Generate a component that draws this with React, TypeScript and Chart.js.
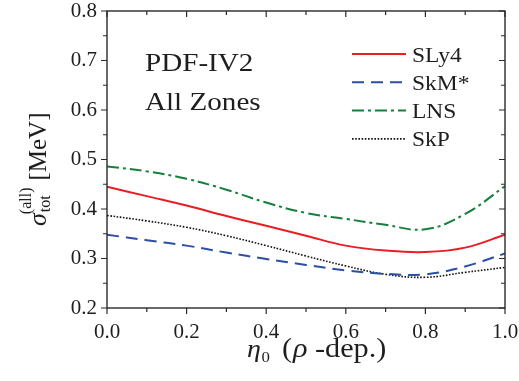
import React, { useEffect, useRef } from "react";
import { Chart, registerables } from "chart.js";

Chart.register(...registerables);

// ---- data ----
const etaValues = [0.0, 0.1, 0.2, 0.3, 0.4, 0.5, 0.6, 0.7, 0.8, 0.9, 1.0];
const sly4 = [0.445, 0.426, 0.407, 0.386, 0.366, 0.346, 0.326, 0.316, 0.313, 0.322, 0.348];
const skmStar = [0.348, 0.337, 0.326, 0.312, 0.299, 0.287, 0.276, 0.269, 0.268, 0.284, 0.31];
const lns = [0.486, 0.476, 0.461, 0.439, 0.413, 0.392, 0.38, 0.368, 0.359, 0.39, 0.446];
const skp = [0.387, 0.376, 0.363, 0.346, 0.326, 0.305, 0.285, 0.268, 0.262, 0.272, 0.282];
const seriesNames = ["SLy4", "SkM*", "LNS", "SkP"];
const annotationLines = ["PDF-IV2", "All Zones"];
const xRange = [0, 1];
const yRange = [0.2, 0.8];
const xStep = 0.2;
const yStep = 0.1;

const FONT = '"Liberation Serif", "Times New Roman", Times, serif';
const SX = 1.12;

function toPoints(ys: number[]) {
  return etaValues.map((x, i) => ({ x, y: ys[i] }));
}

function textW(ctx: CanvasRenderingContext2D, t: string, x: number, y: number, font: string, sx = SX) {
  ctx.save();
  ctx.font = font;
  ctx.translate(x, y);
  ctx.scale(sx, 1);
  ctx.fillText(t, 0, 0);
  const w = ctx.measureText(t).width * sx;
  ctx.restore();
  return w;
}

function zeroPadding(s: any) {
  s.paddingTop = 0;
  s.paddingBottom = 0;
  s.paddingLeft = 0;
  s.paddingRight = 0;
}

const decorPlugin = {
  id: "decor",
  afterDraw(chart: any) {
    const ctx: CanvasRenderingContext2D = chart.ctx;
    const { left, right, top, bottom } = chart.chartArea;
    const xs = chart.scales.x;
    const ys = chart.scales.y;
    ctx.save();
    ctx.strokeStyle = "#2a2a2a";
    ctx.fillStyle = "#1e1e1e";
    ctx.lineWidth = 1.4;
    ctx.setLineDash([]);
    ctx.strokeRect(left, top, right - left, bottom - top);

    const major = 6;
    const minor = 4;
    ctx.lineWidth = 1.2;
    ctx.beginPath();
    const xt = xs.ticks.map((t: any) => t.value);
    xt.forEach((v: number, i: number) => {
      const p = xs.getPixelForValue(v);
      ctx.moveTo(p, bottom); ctx.lineTo(p, bottom + major);
      ctx.moveTo(p, top); ctx.lineTo(p, top + major);
      if (i < xt.length - 1) {
        const m = xs.getPixelForValue((v + xt[i + 1]) / 2);
        ctx.moveTo(m, bottom); ctx.lineTo(m, bottom + minor);
        ctx.moveTo(m, top); ctx.lineTo(m, top + minor);
      }
    });
    const yt = ys.ticks.map((t: any) => t.value);
    yt.forEach((v: number, i: number) => {
      const p = ys.getPixelForValue(v);
      ctx.moveTo(left, p); ctx.lineTo(left - major, p);
      ctx.moveTo(right, p); ctx.lineTo(right - major, p);
      if (i < yt.length - 1) {
        const m = ys.getPixelForValue((v + yt[i + 1]) / 2);
        ctx.moveTo(left, m); ctx.lineTo(left - minor, m);
        ctx.moveTo(right, m); ctx.lineTo(right - minor, m);
      }
    });
    ctx.stroke();

    // annotation
    ctx.textBaseline = "alphabetic";
    ctx.textAlign = "left";
    textW(ctx, annotationLines[0], 145, 71, `26px ${FONT}`);
    textW(ctx, annotationLines[1], 145, 110, `26px ${FONT}`);

    // legend
    chart.data.datasets.forEach((ds: any, i: number) => {
      const ly = 54 + i * 28.3;
      ctx.save();
      ctx.strokeStyle = ds.borderColor;
      ctx.lineWidth = ds.borderWidth;
      ctx.setLineDash(ds.borderDash || []);
      ctx.beginPath();
      ctx.moveTo(352, ly);
      ctx.lineTo(406, ly);
      ctx.stroke();
      ctx.restore();
      textW(ctx, ds.label, 412, ly + 7.5, `21px ${FONT}`);
    });

    // x title
    const xb = 357;
    let cx = 247;
    cx += textW(ctx, "η", cx, xb, `italic 25px ${FONT}`);
    textW(ctx, "0", cx + 0.5, xb + 5, `15px ${FONT}`);
    cx = 282;
    cx += textW(ctx, "(", cx, xb, `27px ${FONT}`);
    textW(ctx, "ρ", cx + 1, xb, `italic 27px ${FONT}`);
    textW(ctx, "-dep.)", 315, xb, `27px ${FONT}`);

    // y title (rotated)
    ctx.save();
    ctx.translate(46, 226);
    ctx.rotate(-Math.PI / 2);
    let u = 0;
    ctx.font = `italic 26px ${FONT}`;
    ctx.fillText("σ", u, 0);
    u += ctx.measureText("σ").width + 1;
    ctx.font = `16px ${FONT}`;
    ctx.fillText("tot", u, 4);
    const w1 = ctx.measureText("tot").width;
    ctx.fillText("(all)", u - 2, -15);
    const w2 = ctx.measureText("(all)").width - 2;
    u += Math.max(w1, w2) + 7;
    ctx.font = `25px ${FONT}`;
    ctx.fillText("[MeV]", u, 0);
    ctx.restore();

    ctx.restore();
  },
};

export default function App() {
  const ref = useRef<HTMLCanvasElement | null>(null);
  useEffect(() => {
    let chart: Chart | null = null;
    let cancelled = false;
    const build = () => {
      if (cancelled || !ref.current) return;
      chart = new Chart(ref.current, {
        type: "line",
        data: {
          datasets: [
            { label: seriesNames[0], data: toPoints(sly4), borderColor: "#ea1c24", borderWidth: 2, borderDash: [] },
            { label: seriesNames[1], data: toPoints(skmStar), borderColor: "#2b4fa6", borderWidth: 2, borderDash: [12, 7] },
            { label: seriesNames[2], data: toPoints(lns), borderColor: "#14803c", borderWidth: 2, borderDash: [12, 4, 3, 4] },
            { label: seriesNames[3], data: toPoints(skp), borderColor: "#111111", borderWidth: 1.6, borderDash: [1.6, 1.6] },
          ] as any,
        },
        options: {
          animation: false,
          responsive: false,
          devicePixelRatio: 1,
          layout: { padding: { top: 11, right: 14, left: 0, bottom: 0 } },
          elements: {
            point: { radius: 0 },
            line: { tension: 0.4, fill: false },
          },
          plugins: { legend: { display: false }, tooltip: { enabled: false } },
          scales: {
            x: {
              type: "linear",
              min: xRange[0],
              max: xRange[1],
              grid: { display: false, drawTicks: false },
              border: { display: false },
              ticks: {
                stepSize: xStep,
                padding: 12,
                color: "#1e1e1e",
                font: { family: FONT, size: 21 },
                callback: (v: any) => Number(v).toFixed(1),
              },
              afterFit: (s: any) => { s.height = 73; zeroPadding(s); },
            },
            y: {
              type: "linear",
              min: yRange[0],
              max: yRange[1],
              grid: { display: false, drawTicks: false },
              border: { display: false },
              ticks: {
                stepSize: yStep,
                padding: 10,
                color: "#1e1e1e",
                font: { family: FONT, size: 21 },
                callback: (v: any) => Number(v).toFixed(1),
              },
              afterFit: (s: any) => { s.width = 107; zeroPadding(s); },
            },
          },
        } as any,
        plugins: [decorPlugin],
      });
    };
    const fonts: any = (document as any).fonts;
    if (fonts && fonts.load) {
      Promise.all([
        fonts.load('21px "Liberation Serif"'),
        fonts.load('italic 25px "Liberation Serif"'),
      ]).then(build, build);
    } else {
      build();
    }
    return () => {
      cancelled = true;
      if (chart) chart.destroy();
    };
  }, []);
  return (
    <div style={{ position: "absolute", left: 0, top: 0, width: 519, height: 381, background: "#fff" }}>
      <canvas ref={ref} width={519} height={381} style={{ display: "block" }} />
    </div>
  );
}
